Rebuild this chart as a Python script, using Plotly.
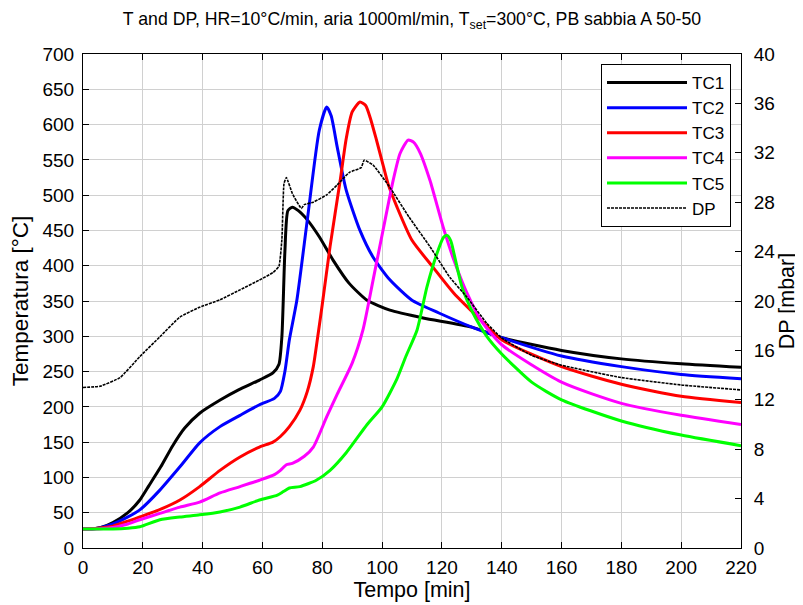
import plotly.graph_objects as go

# ---------------- data ----------------
tc1_t = [0, 3, 6, 10, 15, 19, 22, 26, 30, 34, 39, 46, 52, 59, 63.5, 65.5, 66.5, 67.5, 68.5, 70, 72, 75, 79, 83.6, 89, 95, 102.6, 113.7, 130, 140, 160, 180, 200, 220]
tc1_T = [27, 27, 29, 36, 50, 68, 88, 115, 145, 170, 191, 210, 224, 238, 248, 260, 300, 420, 478, 483, 478, 465, 441, 408, 375, 351, 337, 326, 313, 298, 280, 268, 261, 256]

tc2_t = [0, 5, 10, 15, 19, 25.7, 32.4, 39, 45.8, 52.5, 59, 64, 66, 67.5, 69, 71.5, 75, 79, 81.5, 83, 85, 88, 92.6, 97, 102.6, 110, 119, 130, 140, 160, 180, 200, 220]
tc2_T = [27, 28, 34, 44, 54, 82, 115, 149, 172, 188, 203, 212, 222, 250, 295, 351, 465, 592, 625, 612, 568, 507, 450, 412, 380, 351, 333, 313, 298, 272, 257, 246, 240]

tc3_t = [0, 5, 10, 15, 19, 26, 32.4, 39, 45.8, 52.5, 59, 63.5, 66, 69, 72.5, 75, 77, 78.6, 80, 82.6, 86, 88, 90, 92.6, 94.5, 96, 98, 100, 102, 105, 110, 117, 124, 133, 140, 160, 180, 200, 220]
tc3_T = [27, 28, 31, 38, 44, 55, 68, 87, 110, 129, 143, 150, 158, 172, 195, 222, 257, 303, 345, 427, 521, 580, 618, 632, 627, 610, 580, 548, 516, 483, 436, 398, 361, 323, 295, 257, 232, 215, 206]

tc4_t = [0, 5, 10, 15, 19, 25.7, 32.4, 39, 45.8, 52.5, 59, 64, 66, 68, 70, 74, 77, 81.5, 85, 90, 93.6, 97, 100.3, 103.7, 106, 108.7, 110.5, 112.7, 116, 120.4, 124, 128.4, 133, 140, 160, 180, 200, 220]
tc4_T = [27, 27, 29, 34, 40, 49, 58, 65, 78, 87, 96, 104, 110, 118, 120, 130, 143, 186, 218, 262, 309, 380, 450, 521, 559, 578, 575, 560, 521, 455, 408, 361, 323, 288, 235, 205, 188, 175]

tc5_t = [0, 5, 10, 15, 19, 25.7, 32.4, 39, 45.8, 52.5, 59, 65, 67, 69, 72.5, 78, 82.6, 88, 95, 100, 105, 108, 111.7, 115, 118.4, 120.5, 121.7, 123, 124, 126.7, 130.4, 135, 140, 150, 160, 180, 200, 220]
tc5_T = [27, 27, 27, 28, 30, 40, 44, 47, 51, 58, 68, 75, 80, 85, 87, 96, 110, 135, 175, 200, 240, 272, 309, 370, 418, 440, 443, 435, 418, 370, 333, 300, 275, 235, 210, 180, 160, 145]

dp_t = [0, 5.7, 12.4, 19, 25.7, 32.4, 39, 45.8, 52.5, 59, 63.5, 65.5, 66.5, 67.2, 68, 70, 73, 74, 77, 81.5, 85, 89, 93, 94, 97, 102.6, 109, 116, 122.7, 128.4, 135, 140, 150, 160, 180, 200, 220]
dp_v = [13.0, 13.1, 13.8, 15.5, 17.1, 18.7, 19.5, 20.1, 20.9, 21.7, 22.3, 22.8, 25.0, 29.5, 30.0, 28.7, 27.5, 27.8, 28.0, 28.6, 29.4, 30.4, 30.8, 31.4, 31.0, 29.2, 26.8, 24.4, 21.9, 20.3, 18.2, 17.0, 15.6, 14.8, 13.8, 13.2, 12.8]

x_ticks = list(range(0, 221, 20))
y_ticks = list(range(0, 701, 50))
y2_ticks = list(range(0, 41, 4))

title_text = "T and DP, HR=10°C/min, aria 1000ml/min, T<sub>set</sub>=300°C, PB sabbia A 50-50"

# ---------------- figure ----------------
FONT = "Liberation Sans, Arial, sans-serif"
TICK = 19
AXT = 21.5
W, H = 803, 605
OFF = 8  # page body margin of the html page
fig = go.Figure()

series = [
    ("TC1", tc1_t, tc1_T, "#000000"),
    ("TC2", tc2_t, tc2_T, "#0000ff"),
    ("TC3", tc3_t, tc3_T, "#ff0000"),
    ("TC4", tc4_t, tc4_T, "#ff00ff"),
    ("TC5", tc5_t, tc5_T, "#00ff00"),
]
for name, xs, ys, col in series:
    fig.add_trace(go.Scatter(x=xs, y=ys, name=name, mode="lines",
                             line=dict(color=col, width=3, shape="spline", smoothing=0.6)))

fig.add_trace(go.Scatter(x=dp_t, y=dp_v, name="DP", mode="lines", yaxis="y2",
                         line=dict(color="#000000", width=1.6, dash="3px,1px",
                                   shape="spline", smoothing=0.4)))

axis_common = dict(showline=True, linecolor="black", linewidth=1,
                   ticks="inside", ticklen=6, tickcolor="black",
                   tickfont=dict(size=TICK, color="black", family=FONT),
                   zeroline=False, automargin=False)

# plot area in page pixels: x 83..741, y 54..548
fig.update_layout(
    width=W, height=H,
    margin=dict(l=83 - OFF, r=W - (741 - OFF), t=54 - OFF, b=H - (548 - OFF)),
    paper_bgcolor="white", plot_bgcolor="white",
    font=dict(family=FONT, size=TICK, color="black"),
    title=dict(text=title_text, x=0.5, xref="paper", xanchor="center",
               y=1 - (19 - OFF) / H, yref="container", yanchor="middle",
               font=dict(size=17.7, color="black", family=FONT)),
    xaxis=dict(range=[0, 220], tickvals=x_ticks, mirror="ticks",
               showgrid=True, gridcolor="#d0d0d0", gridwidth=1,
               ticklabelstandoff=2,
               title=dict(text="Tempo [min]", standoff=2, font=dict(size=AXT)),
               **axis_common),
    yaxis=dict(range=[0, 700], tickvals=y_ticks, mirror=True,
               showgrid=True, gridcolor="#d0d0d0", gridwidth=1,
               ticklabelstandoff=4,
               title=dict(text="Temperatura [°C]", standoff=9, font=dict(size=22.5)),
               **axis_common),
    yaxis2=dict(range=[0, 40], tickvals=y2_ticks, overlaying="y", side="right",
                showgrid=False, ticklabelstandoff=8,
                title=dict(text="DP [mbar]", standoff=0, font=dict(size=AXT)),
                **axis_common),
    legend=dict(x=(731 - 83) / 658, y=1 - (64 - 54) / 494, xanchor="right", yanchor="top",
                bgcolor="white", bordercolor="black", borderwidth=1,
                font=dict(size=17, color="black", family=FONT),
                itemwidth=80, tracegroupgap=0),
    showlegend=True,
)

fig.write_html("out.html")
